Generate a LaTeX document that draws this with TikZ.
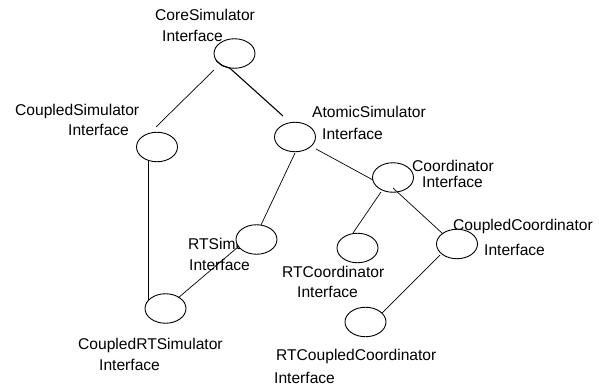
\documentclass[tikz,border=0pt]{standalone}
\usepackage{fontspec}
\setmainfont{Liberation Sans}
\usetikzlibrary{shapes.geometric,calc}
\begin{document}
\begin{tikzpicture}[x=1pt,y=-1pt,
  lbl/.style={anchor=base west,inner sep=0pt,font=\fontsize{15.6}{18}\selectfont},
  iface/.style={draw,ellipse,fill=white,line width=0.9pt,minimum width=41pt,minimum height=29.5pt,inner sep=0pt},
  conn/.style={line width=0.7pt}]
\useasboundingbox (0,0) rectangle (599,387);
% labels
\node[lbl] (l1a) at (155,21) {CoreSimulator};
\node[lbl] (l1b) at (162,42) {Interface};
\node[lbl] (l2a) at (15,116) {CoupledSimulator};
\node[lbl] (l2b) at (68,136) {Interface};
\node[lbl] (l3a) at (312,118) {AtomicSimulator};
\node[lbl] (l3b) at (322,140) {Interface};
\node[lbl] (l4a) at (412,172) {Coordinator};
\node[lbl] (l4b) at (422,188) {Interface};
\node[lbl] (l5a) at (453,231) {CoupledCoordinator};
\node[lbl] (l5b) at (484,255) {Interface};
\node[lbl] (l6a) at (188,250) {RTSimulator};
\node[lbl] (l6b) at (189,270) {Interface};
\node[lbl] (l7a) at (282,277) {RTCoordinator};
\node[lbl] (l7b) at (297,297) {Interface};
\node[lbl] (l8a) at (78,349) {CoupledRTSimulator};
\node[lbl] (l8b) at (99,370) {Interface};
\node[lbl] (l9a) at (276,360) {RTCoupledCoordinator};
\node[lbl] (l9b) at (274,383) {Interface};
% ellipses
\node[iface] (core) at (234.5,53.5) {};
\node[iface] (csim) at (157,147) {};
\node[iface] (atom) at (295,137) {};
\node[iface] (coord) at (393,177.5) {};
\node[iface] (rtcoord) at (357.5,248) {};
\node[iface] (ccoord) at (457,244) {};
\node[iface] (rtccoord) at (365.5,322) {};
\node[iface] (rtsim) at (256.5,239.5) {};
\node[iface] (crtsim) at (165.5,308.5) {};
% connectors
\draw[conn] ($(core)+(-20.5,16.5)$) -- ($(csim)+(-1,-20)$);
\draw[line width=1.1pt] ($(core)+(-18.5,7)$) -- ($(core)+(-12.5,12)$) -- ($(core)+(-4.5,14.8)$) -- ($(atom)+(-12,-21)$);
\draw[conn] ($(csim)+(-9,14.5)$) -- ($(crtsim)+(-17.5,-8.5)$);
\draw[conn] ($(atom)+(0,16)$) -- ($(rtsim)+(4.5,-14.5)$);
\draw[conn] ($(atom)+(21,12)$) -- ($(coord)+(-20,2.5)$);
\draw[conn] ($(rtsim)+(-18.5,7.5)$) -- ($(crtsim)+(12.5,-10.5)$);
\draw[conn] ($(coord)+(-12,14.5)$) -- ($(rtcoord)+(-4.5,-15)$);
\draw[conn] ($(coord)+(0,10.5)$) -- ($(ccoord)+(-14,-10)$);
\draw[conn] ($(ccoord)+(-17,11)$) -- ($(rtccoord)+(16.5,-9)$);
\end{tikzpicture}
\end{document}
